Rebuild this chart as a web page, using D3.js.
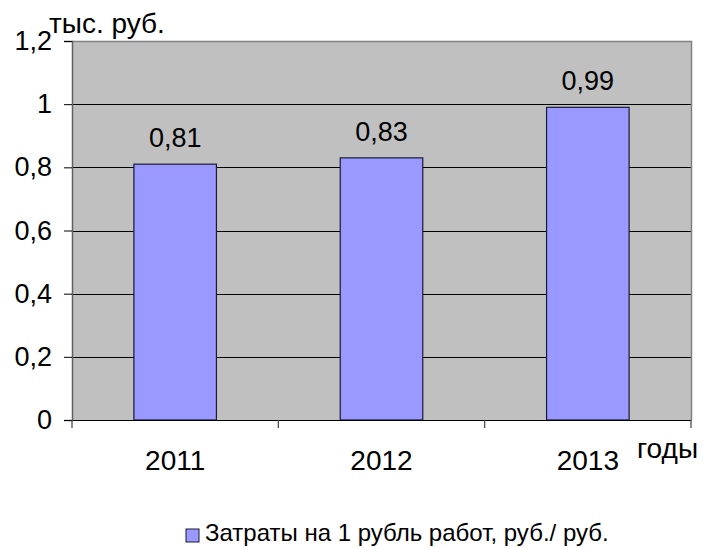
<!DOCTYPE html>
<html>
<head>
<meta charset="utf-8">
<script src="https://cdn.jsdelivr.net/npm/d3@7"></script>
<style>
html,body{margin:0;padding:0;background:#fff;}
svg{display:block;font-family:"Liberation Sans",Arial,sans-serif;}
</style>
</head>
<body>
<svg id="chart" width="704" height="548"></svg>
<script>
const categories = ["2011", "2012", "2013"];
const values = [0.81, 0.83, 0.99];
const valueLabels = ["0,81", "0,83", "0,99"];
const yTicks = [0, 0.2, 0.4, 0.6, 0.8, 1, 1.2];
const yTickLabels = ["0", "0,2", "0,4", "0,6", "0,8", "1", "1,2"];
const seriesName = "Затраты на 1 рубль работ, руб./ руб.";
const yUnit = "тыс. руб.";
const xUnit = "годы";

const svg = d3.select("#chart");
const m = {left: 72, right: 691, top: 41, bottom: 420};

const x = d3.scaleBand().domain(categories).range([m.left, m.right]).paddingInner(0.6).paddingOuter(0.3);
const xOuter = d3.scaleBand().domain(categories).range([m.left, m.right]);
const y = d3.scaleLinear().domain([0, 1.2]).range([m.bottom, m.top]);

// plot background
svg.append("rect").attr("x", m.left).attr("y", m.top)
  .attr("width", m.right - m.left).attr("height", m.bottom - m.top)
  .attr("fill", "#C0C0C0");

// gridlines
svg.append("g").selectAll("line").data(yTicks.filter(d => d > 0 && d < 1.2)).join("line")
  .attr("x1", m.left).attr("x2", m.right)
  .attr("y1", d => Math.round(y(d)) + 0.5).attr("y2", d => Math.round(y(d)) + 0.5)
  .attr("stroke", "#000").attr("stroke-width", 1);

// top/right border
svg.append("path")
  .attr("d", `M${m.left},${m.top + 0.5}H${m.right + 0.5}V${m.bottom}`)
  .attr("fill", "none").attr("stroke", "#808080").attr("stroke-width", 1.5);

// bars
svg.append("g").selectAll("rect").data(values).join("rect")
  .attr("x", (d, i) => x(categories[i]))
  .attr("y", d => y(d))
  .attr("width", x.bandwidth())
  .attr("height", d => y(0) - y(d))
  .attr("fill", "#9999FF")
  .attr("stroke", "#1a1a33").attr("stroke-width", 1.2);

// value labels
svg.append("g").selectAll("text").data(values).join("text")
  .attr("x", (d, i) => x(categories[i]) + x.bandwidth() / 2)
  .attr("y", d => y(d) - 17)
  .attr("text-anchor", "middle")
  .attr("font-size", 27)
  .attr("fill", "#000")
  .text((d, i) => valueLabels[i]);

// y axis
const yAxis = d3.axisLeft(y).tickValues(yTicks).tickSize(8).tickPadding(12)
  .tickFormat((d, i) => yTickLabels[i]);
const gy = svg.append("g").attr("transform", `translate(${m.left},0)`).call(yAxis);
gy.select(".domain").attr("stroke", "#606060").attr("stroke-width", 1.5);
gy.selectAll(".tick line").attr("stroke", "#000");
gy.selectAll(".tick text").attr("font-size", 27).attr("font-family", "Liberation Sans, Arial, sans-serif").attr("fill", "#000");

// x axis
const xAxis = d3.axisBottom(xOuter).tickSize(0).tickPadding(30);
const gx = svg.append("g").attr("transform", `translate(0,${m.bottom})`).call(xAxis);
gx.select(".domain").attr("stroke", "#000").attr("stroke-width", 1.2);
gx.selectAll(".tick text").attr("font-size", 28).attr("font-family", "Liberation Sans, Arial, sans-serif").attr("fill", "#000");
// category boundary ticks
const bounds = [m.left].concat(categories.map(c => xOuter(c) + xOuter.bandwidth()));
svg.append("g").selectAll("line").data(bounds).join("line")
  .attr("x1", d => d).attr("x2", d => d)
  .attr("y1", m.bottom).attr("y2", m.bottom + 8)
  .attr("stroke", "#404040").attr("stroke-width", 1.2);

// unit labels
svg.append("text").attr("x", 49).attr("y", 33).attr("font-size", 28).attr("fill", "#000").text(yUnit);
svg.append("text").attr("x", 637).attr("y", 458).attr("font-size", 28).attr("fill", "#000").text(xUnit);

// legend
const lg = svg.append("g");
lg.append("rect").attr("x", 186).attr("y", 529).attr("width", 13).attr("height", 13)
  .attr("fill", "#9999FF").attr("stroke", "#1a1a33").attr("stroke-width", 1);
lg.append("text").attr("x", 205).attr("y", 541).attr("font-size", 24).attr("fill", "#000").text(seriesName);
</script>
</body>
</html>
